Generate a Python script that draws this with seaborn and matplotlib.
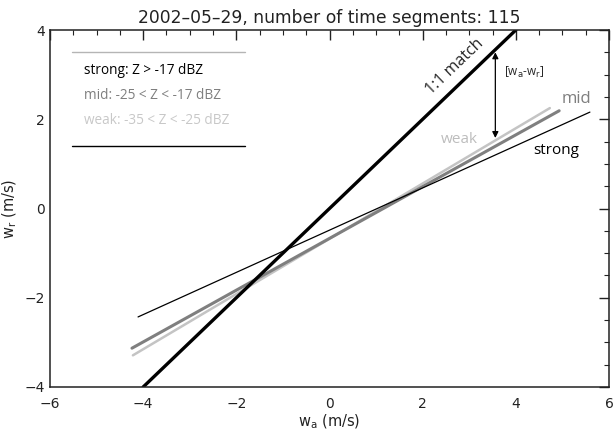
import matplotlib
matplotlib.use("Agg")
import matplotlib.pyplot as plt
from matplotlib.ticker import MultipleLocator
import seaborn as sns
import pandas as pd

# ---- data ----
series = ["1:1", "strong", "mid", "weak"]
x_ends = {
    "1:1": [-4.0, 4.0],
    "strong": [-4.11, 5.59],
    "mid": [-4.24, 4.93],
    "weak": [-4.22, 4.73],
}
y_ends = {
    "1:1": [-4.0, 4.0],
    "strong": [-2.43, 2.16],
    "mid": [-3.13, 2.19],
    "weak": [-3.29, 2.25],
}
legend_texts = ["strong: Z > -17 dBZ", "mid: -25 < Z < -17 dBZ", "weak: -35 < Z < -25 dBZ"]
title = "2002\u201305\u201329, number of time segments: 115"
arrow_x = 3.56
arrow_y = [3.5, 1.58]

colors = {"1:1": "black", "strong": "black", "mid": "#7f7f7f", "weak": "#c4c4c4"}
widths = {"1:1": 2.4, "strong": 0.9, "mid": 2.2, "weak": 1.8}

sns.set_style("white")
plt.rcParams["font.family"] = ["DejaVu Sans"]

fig = plt.figure(figsize=(6.14, 4.37), dpi=100)
ax = fig.add_axes([50 / 614, 1 - 387 / 437, (609 - 50) / 614, (387 - 30) / 437])

rows = []
for s in series:
    for xv, yv in zip(x_ends[s], y_ends[s]):
        rows.append({"series": s, "x": xv, "y": yv})
df = pd.DataFrame(rows)

for s in ["weak", "mid", "strong", "1:1"]:
    sub = df[df["series"] == s]
    sns.lineplot(data=sub, x="x", y="y", ax=ax, color=colors[s],
                 linewidth=widths[s], legend=False, sort=False, estimator=None)

ax.set_xlim(-6, 6)
ax.set_ylim(-4, 4)
ax.xaxis.set_major_locator(MultipleLocator(2))
ax.xaxis.set_minor_locator(MultipleLocator(0.5))
ax.yaxis.set_major_locator(MultipleLocator(2))
ax.yaxis.set_minor_locator(MultipleLocator(0.5))
ax.tick_params(which="both", direction="in", top=True, right=True, colors="#222222",
               labelsize=10, labelcolor="#222222")
ax.tick_params(which="major", length=7, width=1)
ax.tick_params(which="minor", length=3.5, width=0.8)
ax.tick_params(axis="x", pad=7)
for sp in ax.spines.values():
    sp.set_color("#222222")
    sp.set_linewidth(1.1)

ax.set_xlabel(r"w$_\mathrm{a}$ (m/s)", fontsize=10.5, labelpad=1, color="#222222")
ax.set_ylabel(r"w$_\mathrm{r}$ (m/s)", fontsize=10.5, labelpad=4, color="#222222")
ax.set_title(title, fontsize=12.3, pad=5, color="#222222")

# arrow
ax.annotate("", xy=(arrow_x, arrow_y[1]), xytext=(arrow_x, arrow_y[0]),
            arrowprops=dict(arrowstyle="<|-|>", color="black", lw=0.9,
                            mutation_scale=9, shrinkA=0, shrinkB=0))
lab_font = ["Open Sans", "DejaVu Sans"]
ax.text(3.75, 3.05, r"[w$_\mathrm{a}$-w$_\mathrm{r}$]", fontsize=8.5, ha="left", va="center",
        family=lab_font)
ax.text(2.68, 3.17, "1:1 match", fontsize=11.5, rotation=43.7, ha="center", va="center",
        rotation_mode="anchor", family=lab_font)
ax.text(5.3, 2.45, "mid", fontsize=12, color=colors["mid"], ha="center", va="center", family=lab_font)
ax.text(2.79, 1.54, "weak", fontsize=11, color="#bdbdbd", ha="center", va="center", family=lab_font)
ax.text(4.86, 1.29, "strong", fontsize=11, color="black", ha="center", va="center", family=lab_font)

# legend-like block
ax.plot([-5.53, -1.81], [3.51, 3.51], color="#b5b5b5", lw=1.0)
ax.plot([-5.53, -1.81], [1.40, 1.40], color="black", lw=1.0)
leg_cols = ["black", colors["mid"], "#c8c8c8"]
for i, (t, c) in enumerate(zip(legend_texts, leg_cols)):
    ax.text(-5.27, 3.1 - 0.56 * i, t, fontsize=9.8, color=c, ha="left", va="center",
            family=lab_font)

fig.savefig("out.png", dpi=100)
